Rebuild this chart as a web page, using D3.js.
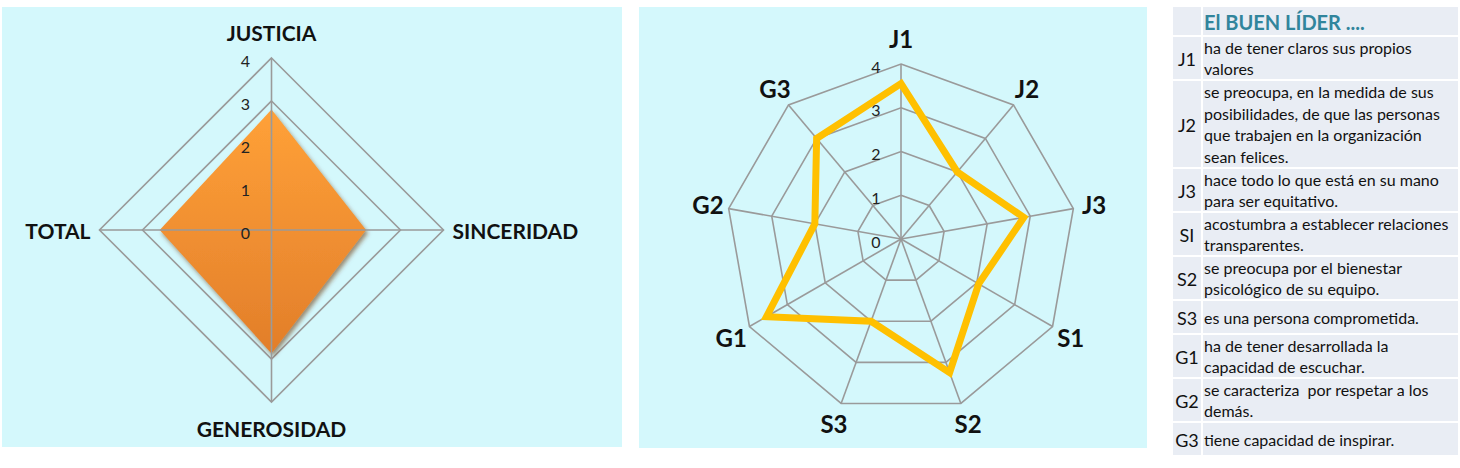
<!DOCTYPE html>
<html>
<head>
<meta charset="utf-8">
<script src="https://cdn.jsdelivr.net/npm/d3@7"></script>
<style>
  html, body { margin: 0; padding: 0; background: #fff; }
  svg { display: block; font-family: Lato, "Open Sans", sans-serif; }
</style>
</head>
<body>
<div id="chart"></div>
<script>
// chart data
const pillars = ['JUSTICIA', 'SINCERIDAD', 'GENEROSIDAD', 'TOTAL'];
const pillarScores = [2.8, 2.2, 2.87, 2.6];

const items = ['J1', 'J2', 'J3', 'S1', 'S2', 'S3', 'G1', 'G2', 'G3'];
const itemScores = [3.55, 2.0, 2.85, 2.05, 3.25, 2.0, 3.55, 2.0, 3.0];

const ticks = [0, 1, 2, 3, 4];

const tableTitle = 'El BUEN LÍDER ....';
const codes = ['J1', 'J2', 'J3', 'SI', 'S2', 'S3', 'G1', 'G2', 'G3'];
const descriptions = [
  ['ha de tener claros sus propios', 'valores'],
  ['se preocupa, en la medida de sus', 'posibilidades, de que las personas', 'que trabajen en la organización', 'sean felices.'],
  ['hace todo lo que está en su mano', 'para ser equitativo.'],
  ['acostumbra a establecer relaciones', 'transparentes.'],
  ['se preocupa por el bienestar', 'psicológico de su equipo.'],
  ['es una persona comprometida.'],
  ['ha de tener desarrollada la', 'capacidad de escuchar.'],
  ['se caracteriza  por respetar a los', 'demás.'],
  ['tiene capacidad de inspirar.']
];

window.addEventListener('DOMContentLoaded', function() {
  const width = 1460, height = 468;
  const bg = '#d4f8fc';
  const gridColor = '#9a9a9a';

  const svg = d3.select('#chart')
    .append('svg')
    .attr('width', width)
    .attr('height', height);

  const defs = svg.append('defs');
  const grad = defs.append('linearGradient')
    .attr('id', 'orangeGrad')
    .attr('x1', 0).attr('y1', 0).attr('x2', 0).attr('y2', 1);
  grad.append('stop').attr('offset', '0%').attr('stop-color', '#ffa138');
  grad.append('stop').attr('offset', '100%').attr('stop-color', '#e27e2a');

  defs.append('filter')
    .attr('id', 'shadow')
    .attr('x', '-20%').attr('y', '-20%').attr('width', '140%').attr('height', '140%')
    .append('feDropShadow')
    .attr('dx', 2).attr('dy', 3)
    .attr('stdDeviation', 2)
    .attr('flood-color', '#6b3300')
    .attr('flood-opacity', 0.55);

  // shared radar helper
  function radar(g, cfg) {
    const n = cfg.axes.length;
    const r = d3.scaleLinear().domain([0, 4]).range([0, cfg.radius]);
    const angle = i => i * 2 * Math.PI / n;
    const ring = d3.lineRadial()
      .angle((d, i) => angle(i))
      .radius(d => r(d))
      .curve(d3.curveLinearClosed);

    const root = g.append('g').attr('transform', `translate(${cfg.cx},${cfg.cy})`);

    // rings
    root.append('g')
      .selectAll('path')
      .data(ticks.filter(t => t > 0))
      .join('path')
      .attr('d', t => ring(d3.range(n).map(() => t)))
      .attr('fill', 'none')
      .attr('stroke', gridColor)
      .attr('stroke-width', 1.6);

    const spokes = () => root.append('g')
      .selectAll('line')
      .data(cfg.axes)
      .join('line')
      .attr('x1', 0).attr('y1', 0)
      .attr('x2', (d, i) => r(4) * Math.sin(angle(i)))
      .attr('y2', (d, i) => -r(4) * Math.cos(angle(i)))
      .attr('stroke', gridColor)
      .attr('stroke-width', 1.6);

    if (!cfg.spokesOnTop) spokes();

    // series
    const series = root.append('path')
      .attr('d', ring(cfg.values));
    if (cfg.area) {
      series.attr('fill', 'url(#orangeGrad)').attr('filter', 'url(#shadow)');
    } else {
      series.attr('fill', 'none')
        .attr('stroke', '#ffc000')
        .attr('stroke-width', 7)
        .attr('stroke-linejoin', 'miter');
    }

    if (cfg.spokesOnTop) spokes();

    // value ticks
    root.append('g')
      .selectAll('text')
      .data(ticks)
      .join('text')
      .attr('x', -cfg.tickOffset)
      .attr('y', t => -r(t) + 2)
      .attr('text-anchor', 'middle')
      .attr('dominant-baseline', 'central')
      .attr('font-size', 16)
      .attr('fill', '#222')
      .text(t => t);

    // category labels
    root.append('g')
      .selectAll('text')
      .data(cfg.axes)
      .join('text')
      .each(function(d, i) {
        const a = angle(i);
        const s = Math.sin(a), c = Math.cos(a);
        const t = d3.select(this);
        if (cfg.sideAnchors && Math.abs(s) > 0.5) {
          t.attr('x', (r(4) + cfg.sideGap) * s)
            .attr('y', 0)
            .attr('text-anchor', s > 0 ? 'start' : 'end');
        } else {
          const lr = r(4) + cfg.labelGap + (c > 0.9 ? cfg.topExtra : 0);
          t.attr('x', lr * s)
            .attr('y', -lr * c)
            .attr('text-anchor', 'middle');
        }
      })
      .attr('dominant-baseline', 'central')
      .attr('font-size', cfg.labelSize)
      .attr('font-weight', 'bold')
      .attr('fill', '#111')
      .text(d => d);
  }

  // left panel: pillars
  svg.append('rect')
    .attr('x', 2).attr('y', 7).attr('width', 620).attr('height', 440)
    .attr('fill', bg);
  radar(svg.append('g'), {
    cx: 271.5, cy: 230, radius: 172,
    axes: pillars, values: pillarScores,
    area: true, spokesOnTop: true,
    tickOffset: 26, labelSize: 21,
    sideAnchors: true, sideGap: 9,
    labelGap: 26, topExtra: 0
  });

  // middle panel: items
  svg.append('rect')
    .attr('x', 639).attr('y', 7).attr('width', 508).attr('height', 441)
    .attr('fill', bg);
  radar(svg.append('g'), {
    cx: 901, cy: 239, radius: 175,
    axes: items, values: itemScores,
    area: false, spokesOnTop: false,
    tickOffset: 25, labelSize: 24,
    sideAnchors: false,
    labelGap: 21, topExtra: 5
  });

  // right panel: legend table
  const tableX = 1173, codeW = 28, tableW = 285, gap = 2;
  const lineH = 21.5;
  const rows = codes.map((c, i) => ({ code: c, lines: descriptions[i] }));
  let y = 7;
  const cellFill = '#e9edf4';
  const table = svg.append('g');

  table.append('rect')
    .attr('x', tableX).attr('y', y).attr('width', codeW).attr('height', 28)
    .attr('fill', cellFill);
  table.append('rect')
    .attr('x', tableX + codeW + gap).attr('y', y)
    .attr('width', tableW - codeW - gap).attr('height', 28)
    .attr('fill', cellFill);
  table.append('text')
    .attr('x', tableX + codeW + gap + 1).attr('y', y + 15)
    .attr('dominant-baseline', 'central')
    .attr('font-size', 20).attr('font-weight', 'bold')
    .attr('fill', '#31859c')
    .text(tableTitle);
  y += 28;

  rows.forEach(row => {
    const h = Math.max(34, row.lines.length * 22);
    const top = y + gap;
    const inner = h - gap;
    const g = table.append('g');
    g.append('rect')
      .attr('x', tableX).attr('y', top).attr('width', codeW).attr('height', inner)
      .attr('fill', cellFill);
    g.append('rect')
      .attr('x', tableX + codeW + gap).attr('y', top)
      .attr('width', tableW - codeW - gap).attr('height', inner)
      .attr('fill', cellFill);
    // text block centred in its row
    const midY = top + inner / 2;
    const firstY = midY - (row.lines.length - 1) * lineH / 2;
    g.append('text')
      .attr('x', tableX + codeW / 2).attr('y', midY + 1)
      .attr('text-anchor', 'middle')
      .attr('dominant-baseline', 'central')
      .attr('font-size', 18)
      .attr('fill', '#111')
      .text(row.code);
    g.selectAll('text.desc')
      .data(row.lines)
      .join('text')
      .attr('class', 'desc')
      .attr('x', tableX + codeW + gap + 1)
      .attr('y', (d, i) => firstY + i * lineH)
      .attr('dominant-baseline', 'central')
      .attr('font-size', 16)
      .attr('fill', '#111')
      .style('white-space', 'pre')
      .text(d => d);
    y += h;
  });
});
</script>
</body>
</html>
